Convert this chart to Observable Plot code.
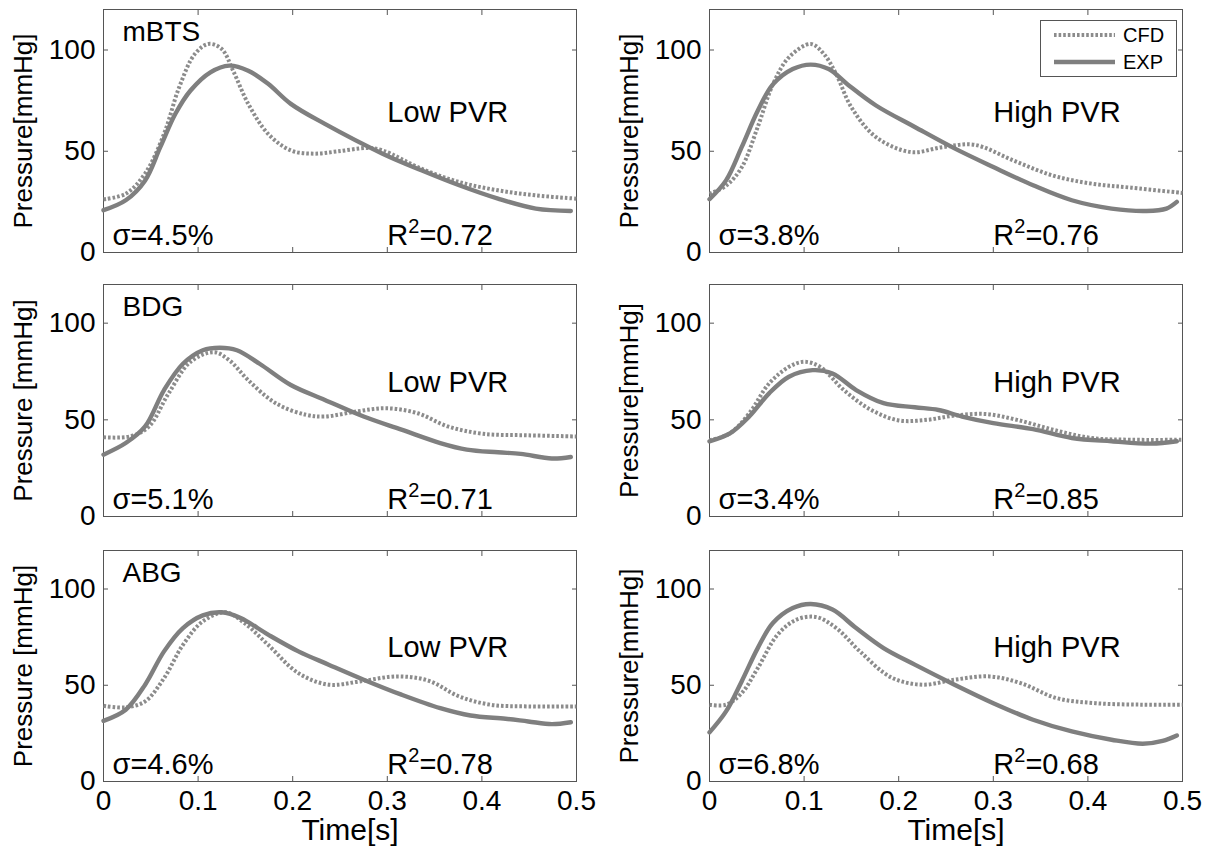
<!DOCTYPE html>
<html>
<head>
<meta charset="utf-8">
<script src="https://cdn.jsdelivr.net/npm/d3@7"></script>
<script src="https://cdn.jsdelivr.net/npm/@observablehq/plot@0.6"></script>
<style>
  body { margin: 0; background: #fff; }
  #fig { position: relative; width: 1215px; height: 846px; background: #fff;
         font-family: "Liberation Sans", Arial, Helvetica, sans-serif; }
  .panel { position: absolute; }
  .legend { position: absolute; left: 1040px; top: 20px; width: 137px; height: 57px;
            box-sizing: border-box; border: 1px solid #555; background: #fff; }
  .legend svg { position: absolute; left: 0; top: 0; }
</style>
</head>
<body>
<div id="fig"></div>
<script>
// ---------------- data (time in s, pressure in mmHg) ----------------
const xTicks = [0, 0.1, 0.2, 0.3, 0.4, 0.5];
const yTicks = [0, 50, 100];

// mBTS, low PVR
const mbtsLowExpT = [0, 0.0235, 0.044, 0.06, 0.076, 0.092, 0.113, 0.133, 0.153, 0.174, 0.198, 0.234, 0.295, 0.336, 0.376, 0.417, 0.457, 0.494];
const mbtsLowExpP = [20.9, 25.8, 35.6, 52, 68.5, 80, 89, 92.3, 89.8, 83.3, 73.4, 63.5, 48.8, 40.6, 33.2, 26.6, 21.7, 20.5];
const mbtsLowCfdT = [0, 0.0235, 0.044, 0.064, 0.08, 0.0965, 0.111, 0.125, 0.137, 0.153, 0.174, 0.198, 0.222, 0.247, 0.279, 0.295, 0.336, 0.376, 0.417, 0.457, 0.5];
const mbtsLowCfdP = [26.3, 29, 39, 58.6, 81.6, 98, 103, 100.5, 89.8, 73.4, 58.6, 50.4, 48.8, 49.9, 51.6, 50.4, 41.4, 34.8, 30.7, 28.2, 26.6];

// mBTS, high PVR
const mbtsHighExpT = [0, 0.0175, 0.034, 0.051, 0.067, 0.088, 0.107, 0.126, 0.146, 0.176, 0.217, 0.259, 0.3, 0.342, 0.383, 0.425, 0.462, 0.483, 0.494];
const mbtsHighExpP = [26.3, 35.6, 52, 70, 83, 90.6, 92.8, 90.6, 83, 72.6, 62, 51.4, 42.2, 33.2, 25.8, 21.7, 20.5, 21.7, 25];
const mbtsHighCfdT = [0, 0.0175, 0.034, 0.051, 0.067, 0.084, 0.107, 0.121, 0.134, 0.15, 0.176, 0.213, 0.246, 0.28, 0.321, 0.363, 0.404, 0.446, 0.5];
const mbtsHighCfdP = [29, 33, 42, 62, 83, 96.4, 103, 98, 88, 71.7, 57, 49.6, 52, 53.2, 45.5, 38, 34, 32, 29.4];

// BDG, low PVR
const bdgLowExpT = [0, 0.0235, 0.044, 0.064, 0.084, 0.105, 0.123, 0.141, 0.165, 0.198, 0.234, 0.275, 0.315, 0.356, 0.384, 0.417, 0.441, 0.474, 0.494];
const bdgLowExpP = [32, 38, 46.6, 65.4, 79, 86, 87.3, 86, 79, 68, 60.3, 51.7, 44.9, 38, 34.6, 33.2, 32.4, 30, 30.8];
const bdgLowCfdT = [0, 0.028, 0.048, 0.068, 0.092, 0.117, 0.133, 0.153, 0.182, 0.214, 0.234, 0.267, 0.299, 0.332, 0.364, 0.401, 0.449, 0.5];
const bdgLowCfdP = [41, 41.4, 46.5, 63, 80, 85, 80.8, 70.5, 58.6, 52.6, 51.7, 54.3, 56, 53.4, 46.6, 42.8, 42, 41.4];

// BDG, high PVR
const bdgHighExpT = [0, 0.0216, 0.042, 0.063, 0.084, 0.109, 0.13, 0.155, 0.184, 0.217, 0.242, 0.267, 0.3, 0.342, 0.383, 0.425, 0.467, 0.494];
const bdgHighExpP = [38.9, 43, 51.7, 63.7, 72.3, 75.7, 74, 65.4, 58.6, 56.5, 55.1, 51.7, 48.3, 45.2, 40.6, 38.9, 37.7, 38.9];
const bdgHighCfdT = [0, 0.0216, 0.042, 0.063, 0.084, 0.1, 0.117, 0.142, 0.171, 0.2, 0.23, 0.259, 0.292, 0.325, 0.363, 0.404, 0.446, 0.5];
const bdgHighCfdP = [39.4, 43, 53.4, 68.8, 77.4, 80, 77.4, 65.4, 55.1, 49.7, 50, 52.2, 53, 50, 44.9, 40.6, 39.7, 39.7];

// ABG, low PVR
const abgLowExpT = [0, 0.0235, 0.044, 0.064, 0.084, 0.105, 0.125, 0.145, 0.174, 0.206, 0.238, 0.275, 0.315, 0.356, 0.388, 0.425, 0.449, 0.474, 0.494];
const abgLowExpP = [31.5, 37.3, 50.3, 67.6, 79.7, 86.3, 87.9, 84.9, 76.3, 67.6, 60.7, 52.9, 45.1, 38.1, 34.3, 32.6, 31.2, 29.8, 30.8];
const abgLowCfdT = [0, 0.0235, 0.044, 0.064, 0.084, 0.105, 0.129, 0.149, 0.174, 0.206, 0.238, 0.271, 0.311, 0.344, 0.376, 0.409, 0.449, 0.5];
const abgLowCfdP = [39.3, 38.5, 41.6, 53.7, 71, 83.2, 87.9, 82.3, 71, 56.3, 50.3, 52, 54.6, 52.3, 44.2, 39.9, 39, 39];

// ABG, high PVR
const abgHighExpT = [0, 0.0175, 0.034, 0.051, 0.067, 0.088, 0.107, 0.13, 0.155, 0.184, 0.217, 0.259, 0.3, 0.342, 0.383, 0.425, 0.458, 0.479, 0.494];
const abgHighExpP = [25.5, 36.4, 52, 69.3, 82.3, 90.1, 92.2, 89.3, 79.7, 69.3, 60.7, 50.3, 40.7, 32.1, 26, 21.7, 19.6, 21.1, 23.9];
const abgHighCfdT = [0, 0.0175, 0.034, 0.051, 0.072, 0.092, 0.113, 0.134, 0.159, 0.192, 0.225, 0.259, 0.296, 0.329, 0.367, 0.408, 0.458, 0.5];
const abgHighCfdP = [39.9, 39.9, 45.9, 58.9, 76.3, 84.1, 85.4, 79.7, 67.6, 54.1, 50.3, 52.9, 54.6, 51.1, 43.3, 40.7, 39.9, 39.9];

const caseNames = ["mBTS", "BDG", "ABG"];
const pvrLabels = ["Low PVR", "High PVR"];
const sigmaLabels = [["σ=4.5%", "σ=3.8%"], ["σ=5.1%", "σ=3.4%"], ["σ=4.6%", "σ=6.8%"]];
const r2Values = [["0.72", "0.76"], ["0.71", "0.85"], ["0.78", "0.68"]];
const yLabels = [["Pressure[mmHg]", "Pressure[mmHg]"], ["Pressure [mmHg]", "Pressure[mmHg]"], ["Pressure [mmHg]", "Pressure[mmHg]"]];
const seriesNames = ["CFD", "EXP"];
const xLabel = "Time[s]";

const series = [
  [[mbtsLowCfdT, mbtsLowCfdP, mbtsLowExpT, mbtsLowExpP], [mbtsHighCfdT, mbtsHighCfdP, mbtsHighExpT, mbtsHighExpP]],
  [[bdgLowCfdT, bdgLowCfdP, bdgLowExpT, bdgLowExpP], [bdgHighCfdT, bdgHighCfdP, bdgHighExpT, bdgHighExpP]],
  [[abgLowCfdT, abgLowCfdP, abgLowExpT, abgLowExpP], [abgHighCfdT, abgHighCfdP, abgHighExpT, abgHighExpP]]
];

// ---------------- layout & style ----------------
const FONT = '"Liberation Sans", Arial, Helvetica, sans-serif';
const cols = [
  {left: 0, width: 607, ml: 103, mr: 31},
  {left: 607, width: 608, ml: 102, mr: 33}
];
const rows = [
  {top: 0, height: 268, mt: 9, mb: 16},
  {top: 268, height: 265, mt: 16, mb: 17},
  {top: 533, height: 313, mt: 17, mb: 65}
];
const frameColor = "#555";
const cfdStyle = {stroke: "#8c8c8c", strokeWidth: 4, strokeDasharray: "2.6,2"};
const expStyle = {stroke: "#7f7f7f", strokeWidth: 4.4};
const annotT = 0.3, annotP = 64.5;

const fig = document.getElementById("fig");
const zip = (t, p) => t.map((d, i) => ({t: d, p: p[i]}));
const R2_MARK = "R2=";

rows.forEach((row, r) => {
  cols.forEach((col, c) => {
    const [cT, cP, eT, eP] = series[r][c];
    const bottom = r === rows.length - 1;
    const marks = [
      Plot.frame({stroke: frameColor}),
      Plot.axisY(yTicks, {anchor: "left", tickSize: 0, tickPadding: 8, fontSize: 28, label: null, fill: "#000"}),
      Plot.axisY(yTicks, {anchor: "left", tickSize: 5, dx: 5, fill: "none", label: null, stroke: frameColor}),
      Plot.axisY(yTicks, {anchor: "right", tickSize: 5, dx: -5, fill: "none", label: null, stroke: frameColor}),
      Plot.axisX(xTicks, {anchor: "top", tickSize: 5, dy: 5, fill: "none", label: null, stroke: frameColor}),
      Plot.axisX(xTicks, {anchor: "bottom", tickSize: 5, dy: -5, fill: "none", label: null, stroke: frameColor}),
      Plot.line(zip(cT, cP), {x: "t", y: "p", curve: "catmull-rom", strokeLinecap: "butt", ...cfdStyle}),
      Plot.line(zip(eT, eP), {x: "t", y: "p", curve: "catmull-rom", ...expStyle}),
      Plot.text([yLabels[r][c]], {frameAnchor: "left", dx: -90, rotate: -90, textAnchor: "middle", lineAnchor: "top", fontSize: 26, fill: "#000"}),
      Plot.text([sigmaLabels[r][c]], {frameAnchor: "bottom-left", dx: 9, dy: -8, textAnchor: "start", lineAnchor: "bottom", fontSize: 29, fill: "#000"}),
      Plot.text([R2_MARK + r2Values[r][c]], {x: () => annotT, frameAnchor: "bottom", dy: -8, textAnchor: "start", lineAnchor: "bottom", fontSize: 29, fill: "#000"}),
      Plot.text([pvrLabels[c]], {x: () => annotT, y: () => annotP, textAnchor: "start", lineAnchor: "bottom", fontSize: 29, fill: "#000"})
    ];
    if (c === 0) {
      marks.push(Plot.text([caseNames[r]], {frameAnchor: "top-left", dx: 19, dy: 31, textAnchor: "start", lineAnchor: "bottom", fontSize: 28, fill: "#000"}));
    }
    if (bottom) {
      marks.push(Plot.axisX(xTicks, {anchor: "bottom", tickSize: 0, tickPadding: 9, fontSize: 28, label: null, fill: "#000", tickFormat: d => String(d)}));
      marks.push(Plot.text([xLabel], {frameAnchor: "bottom", dx: 10, dy: 58, textAnchor: "middle", lineAnchor: "bottom", fontSize: 30, fill: "#000"}));
    }
    const svg = Plot.plot({
      width: col.width,
      height: row.height,
      marginLeft: col.ml,
      marginRight: col.mr,
      marginTop: row.mt,
      marginBottom: row.mb,
      style: {fontFamily: FONT, background: "transparent", overflow: "visible", color: "#000", maxWidth: "none"},
      x: {domain: [0, 0.5], label: null},
      y: {domain: [0, 120], label: null},
      marks
    });
    // render "R2" with a real superscript 2
    svg.querySelectorAll("text").forEach(t => {
      const s = t.textContent;
      if (s.startsWith(R2_MARK)) {
        const rest = s.slice(R2_MARK.length);
        while (t.firstChild) t.removeChild(t.firstChild);
        const ns = "http://www.w3.org/2000/svg";
        const a = document.createElementNS(ns, "tspan"); a.textContent = "R";
        const b = document.createElementNS(ns, "tspan"); b.textContent = "2";
        b.setAttribute("font-size", "20"); b.setAttribute("dy", "-12");
        const d = document.createElementNS(ns, "tspan"); d.textContent = "=" + rest;
        d.setAttribute("dy", "12");
        t.appendChild(a); t.appendChild(b); t.appendChild(d);
      }
    });
    const wrap = document.createElement("div");
    wrap.className = "panel";
    wrap.style.left = col.left + "px";
    wrap.style.top = row.top + "px";
    wrap.appendChild(svg);
    fig.appendChild(wrap);
  });
});

// legend (top-right panel)
const legend = document.createElement("div");
legend.className = "legend";
const ns = "http://www.w3.org/2000/svg";
const lsvg = document.createElementNS(ns, "svg");
lsvg.setAttribute("width", 135);
lsvg.setAttribute("height", 55);
const entries = [{name: seriesNames[0], style: cfdStyle, y: 14}, {name: seriesNames[1], style: expStyle, y: 41}];
entries.forEach(e => {
  const ln = document.createElementNS(ns, "line");
  ln.setAttribute("x1", 13); ln.setAttribute("x2", 74);
  ln.setAttribute("y1", e.y); ln.setAttribute("y2", e.y);
  ln.setAttribute("stroke", e.style.stroke);
  ln.setAttribute("stroke-width", e.style.strokeWidth);
  if (e.style.strokeDasharray) ln.setAttribute("stroke-dasharray", e.style.strokeDasharray);
  lsvg.appendChild(ln);
  const tx = document.createElementNS(ns, "text");
  tx.setAttribute("x", 82); tx.setAttribute("y", e.y);
  tx.setAttribute("dy", "0.35em");
  tx.setAttribute("font-size", 20);
  tx.setAttribute("font-family", FONT);
  tx.setAttribute("fill", "#000");
  tx.textContent = e.name;
  lsvg.appendChild(tx);
});
legend.appendChild(lsvg);
fig.appendChild(legend);
</script>
</body>
</html>
